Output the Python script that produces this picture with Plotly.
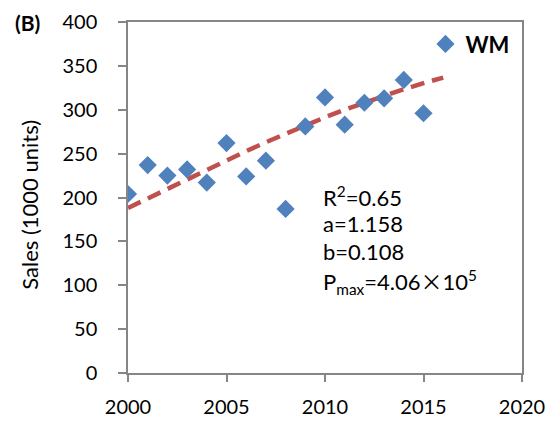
import plotly.graph_objects as go

years = list(range(2000, 2016))
sales = [204, 237, 225, 232, 217, 262, 224, 242, 187, 281, 314, 283, 308, 313, 334, 296]

trend_years = list(range(2000, 2017))
trend_vals = [188.1, 199.1, 210.0, 220.9, 231.8, 242.4, 252.8, 263.0, 272.8, 282.3,
              291.4, 300.1, 308.3, 316.1, 323.4, 330.3, 336.7]

x_ticks = [2000, 2005, 2010, 2015, 2020]
y_ticks = [0, 50, 100, 150, 200, 250, 300, 350, 400]

FONT = "Lato"
AXC = "#868686"

fig = go.Figure()
fig.add_trace(go.Scatter(
    x=trend_years, y=trend_vals, mode="lines", showlegend=False,
    line=dict(color="#C0504D", width=4.5, dash="14px,8px")))
fig.add_trace(go.Scatter(
    x=years, y=sales, mode="markers", name="<b>WM</b>",
    marker=dict(symbol="diamond", size=14, color="#4F81BD"),
    showlegend=True))

ann_font = dict(family=FONT, size=22, color="black")
texts = ["R<sup>2</sup>=0.65", "a=1.158", "b=0.108",
         "P<sub>max</sub>=4.06<span style=\"font-family:'Noto Sans CJK SC'\">×</span>10<sup>5</sup>"]
ys = [0.504, 0.425, 0.345, 0.262]
annotations = []
for t, yy in zip(texts, ys):
    annotations.append(dict(text=t, x=0.49, y=yy, xref="paper", yref="paper",
                            xanchor="left", yanchor="middle", showarrow=False, font=ann_font))
annotations.append(dict(text="<b>(B)</b>", x=-0.254, y=1.0, xref="paper", yref="paper",
                        xanchor="center", yanchor="middle", showarrow=False,
                        font=dict(family=FONT, size=21, color="black")))
annotations.append(dict(text="Sales (1000 units)", x=-0.249, y=0.479, xref="paper", yref="paper",
                        xanchor="center", yanchor="middle", showarrow=False, textangle=-90,
                        font=dict(family=FONT, size=22, color="black")))

fig.update_layout(
    width=548, height=413,
    margin=dict(l=120, r=34, t=14, b=48, autoexpand=False),
    paper_bgcolor="white", plot_bgcolor="white",
    font=dict(family=FONT, size=20, color="black"),
    annotations=annotations,
    legend=dict(x=0.755, y=0.937, xanchor="left", yanchor="middle",
                bgcolor="rgba(0,0,0,0)", font=dict(family=FONT, size=22, color="black"),
                itemwidth=30),
    xaxis=dict(range=[2000, 2020], tickvals=x_ticks, showgrid=False, zeroline=False,
               showline=True, linecolor=AXC, linewidth=1.5, mirror=True,
               ticks="outside", ticklen=7, tickcolor=AXC, tickwidth=1.5,
               ticklabelstandoff=8,
               tickfont=dict(family=FONT, size=20)),
    yaxis=dict(range=[0, 400], tickvals=y_ticks, showgrid=False, zeroline=False,
               showline=True, linecolor=AXC, linewidth=1.5, mirror=True,
               ticks="outside", ticklen=8, tickcolor=AXC, tickwidth=1.5,
               ticklabelstandoff=17,
               tickfont=dict(family=FONT, size=20)),
)

fig.write_html("out.html")
